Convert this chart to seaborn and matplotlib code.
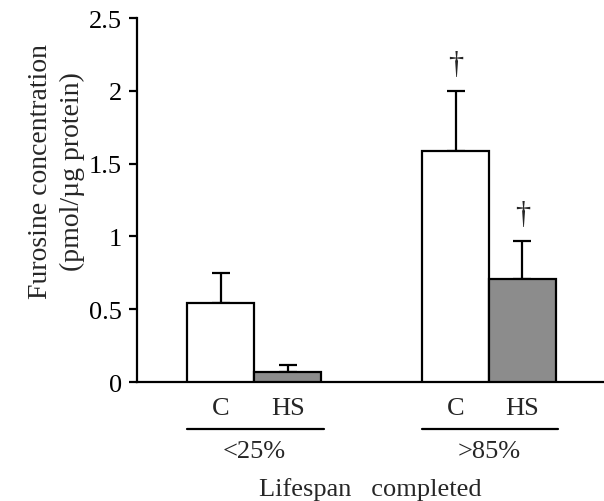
import numpy as np
import pandas as pd
import seaborn as sns
import matplotlib.pyplot as plt
from matplotlib.transforms import blended_transform_factory

# datos
grupos = ['<25%', '>85%']
tratamientos = ['C', 'HS']
medias = {'C': [0.54, 1.59], 'HS': [0.07, 0.71]}
errores = {'C': [0.21, 0.41], 'HS': [0.05, 0.26]}
significativo = {'C': [False, True], 'HS': [False, True]}

filas = []
for t in tratamientos:
    for i, g in enumerate(grupos):
        filas.append({'grupo': g, 'trat': t, 'valor': medias[t][i],
                      'err': errores[t][i], 'sig': significativo[t][i]})
df = pd.DataFrame(filas)

sns.set_theme(style="white")
plt.rcParams['font.family'] = ['Liberation Serif', 'DejaVu Serif']
FS = 19

fig = plt.figure(figsize=(6.04, 5.02), dpi=100)
ax = fig.add_axes([0.2268, 0.237, 0.7732, 0.725])

sns.barplot(data=df, x='grupo', y='valor', hue='trat', order=grupos,
            hue_order=tratamientos, palette={'C': 'white', 'HS': '#8c8c8c'},
            width=0.57, errorbar=None, edgecolor='black', linewidth=1.6,
            legend=False, ax=ax, zorder=3)

# barras de error (solo hacia arriba) y marcas de significancia
parches = ax.patches
k = 0
for t in tratamientos:
    for i, g in enumerate(grupos):
        p = parches[k]
        k += 1
        xc = p.get_x() + p.get_width() / 2
        y = medias[t][i]
        e = errores[t][i]
        ax.errorbar(xc, y, yerr=[[0], [e]], fmt='none', ecolor='black',
                    elinewidth=1.6, capsize=6.5, capthick=1.6, zorder=2)
        if significativo[t][i]:
            ax.text(xc, y + e + 0.08, '†', ha='center', va='bottom', fontsize=22)

ax.set_xlim(-0.5, 1.49)
ax.set_ylim(0, 2.5)
ax.set_yticks([0, 0.5, 1, 1.5, 2, 2.5])
ax.set_yticklabels(['0', '0.5', '1', '1.5', '2', '2.5'])
ax.set_xticks([])
ax.set_xlabel('')
ax.set_ylabel('Furosine concentration\n(pmol/µg protein)', fontsize=20, labelpad=3,
              linespacing=1.35, y=0.58)

sns.despine(ax=ax, top=True, right=True)
ax.spines['left'].set_linewidth(1.6)
ax.spines['bottom'].set_linewidth(1.6)
ax.spines['left'].set_color('black')
ax.spines['bottom'].set_color('black')
ax.tick_params(axis='y', direction='out', length=6, width=1.6, left=True,
               colors='black', labelsize=FS, pad=5)

# etiquetas de tratamiento, lineas de grupo y titulo del eje x
tr = blended_transform_factory(ax.transData, ax.transAxes)
k = 0
bordes = {g: [] for g in grupos}
for t in tratamientos:
    for i, g in enumerate(grupos):
        p = parches[k]
        k += 1
        xc = p.get_x() + p.get_width() / 2
        ax.text(xc, -0.042, t, transform=tr, ha='center', va='top', fontsize=FS)
        bordes[g] += [p.get_x(), p.get_x() + p.get_width()]
for g in grupos:
    x0, x1 = min(bordes[g]), max(bordes[g])
    ax.plot([x0, x1 + 0.01], [-0.128, -0.128], transform=tr, color='black',
            lw=1.6, clip_on=False)
    ax.text((x0 + x1) / 2, -0.158, g, transform=tr, ha='center', va='top', fontsize=FS)

ax.text(0.5, -0.262, 'Lifespan   completed', transform=ax.transAxes, ha='center',
        va='top', fontsize=FS)

fig.savefig('out.png', dpi=100)
